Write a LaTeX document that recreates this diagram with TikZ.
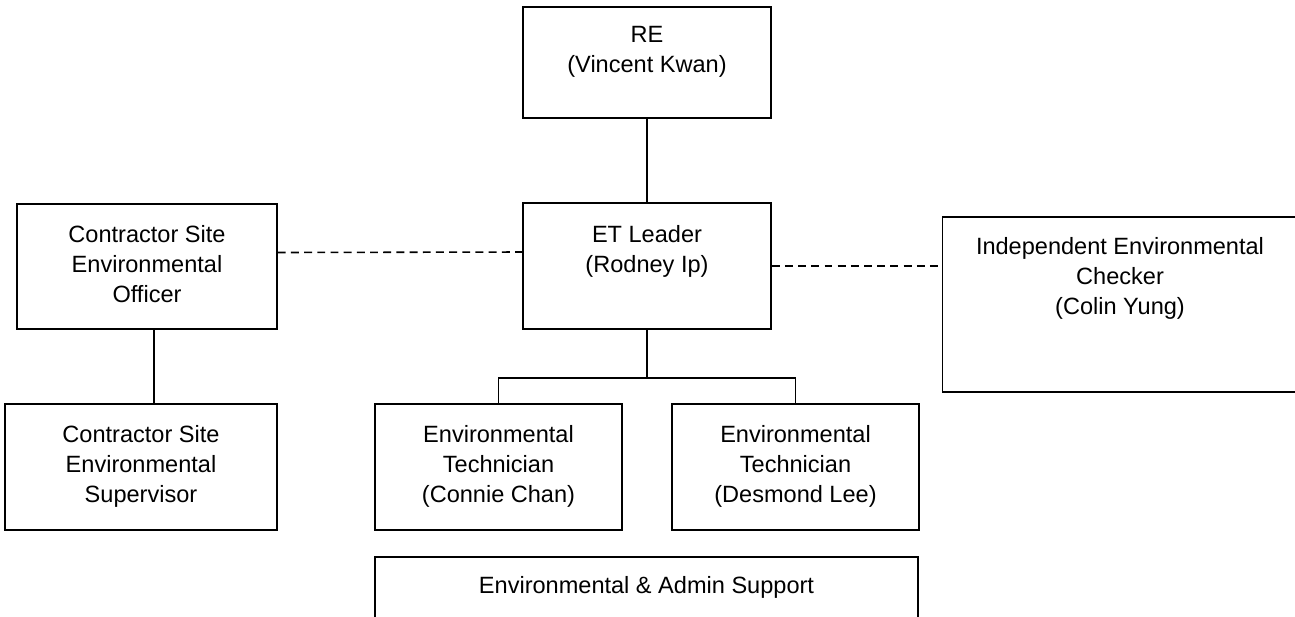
\documentclass[tikz,border=0pt]{standalone}
\usepackage{fontspec}
\setmainfont{Liberation Sans}
\usepackage{tikz}
\usetikzlibrary{positioning}

\begin{document}
\begin{tikzpicture}[orgbox/.style={draw,rectangle,line width=0.9pt,inner sep=0pt},
			orgtext/.style={inner sep=0pt,align=center,font=\fontsize{13.4}{17}\selectfont},
			link/.style={line width=0.9pt},
			dotlink/.style={line width=0.9pt,dash pattern=on 4.5pt off 3pt}]
		\useasboundingbox (0,0) rectangle (25.9,-12.32);
		\node[orgbox,minimum width=4.96cm,minimum height=2.22cm] (re) at (12.94,-1.25) {};
		\node[orgbox,minimum width=4.96cm,minimum height=2.52cm] (et) at (12.94,-5.32) {};
		\node[orgbox,minimum width=5.2cm,minimum height=2.5cm] (cseo) at (2.94,-5.33) {};
		\node[orgbox,minimum width=7.3cm,minimum height=3.5cm] (iec) at (22.5,-6.09) {};
		\node[orgbox,minimum width=5.44cm,minimum height=2.52cm] (cses) at (2.82,-9.34) {};
		\node[orgbox,minimum width=4.94cm,minimum height=2.52cm] (tecA) at (9.97,-9.34) {};
		\node[orgbox,minimum width=4.94cm,minimum height=2.52cm] (tecB) at (15.91,-9.34) {};
		\node[orgbox,minimum width=10.86cm,minimum height=1.8cm] (admin) at (12.93,-12.04) {};
		\node[orgtext,below=0.4cm of re.north] (reT) {RE\\(Vincent Kwan)};
		\node[orgtext,below=0.45cm of et.north] (etT) {ET Leader\\(Rodney Ip)};
		\node[orgtext,below=0.44cm of cseo.north] (cseoT) {Contractor Site\\Environmental\\Officer};
		\node[orgtext,below=0.42cm of iec.north,xshift=-0.1cm] (iecT) {Independent Environmental\\Checker\\(Colin Yung)};
		\node[orgtext,below=0.44cm of cses.north] (csesT) {Contractor Site\\Environmental\\Supervisor};
		\node[orgtext,below=0.44cm of tecA.north] (tecAT) {Environmental\\Technician\\(Connie Chan)};
		\node[orgtext,below=0.44cm of tecB.north] (tecBT) {Environmental\\Technician\\(Desmond Lee)};
		\node[orgtext,below=0.4cm of admin.north] (adminT) {Environmental \& Admin Support};
		\coordinate (bar) at (12.94,-7.56);
		\draw[link] (re) -- (et);
		\draw[link] (et.south) -- (bar);
		\draw[link] (tecA.north) |- (bar) -| (tecB.north);
		\draw[link] ([xshift=0.14cm]cseo.south) -- ([xshift=0.14cm]cseo.south |- cses.north);
		\draw[dotlink] ([yshift=0.28cm]cseo.east) -- ([yshift=0.28cm]et.west);
		\draw[dotlink] (et.east) -- (et.east -| iec.west);
		\end{tikzpicture}
\end{document}
